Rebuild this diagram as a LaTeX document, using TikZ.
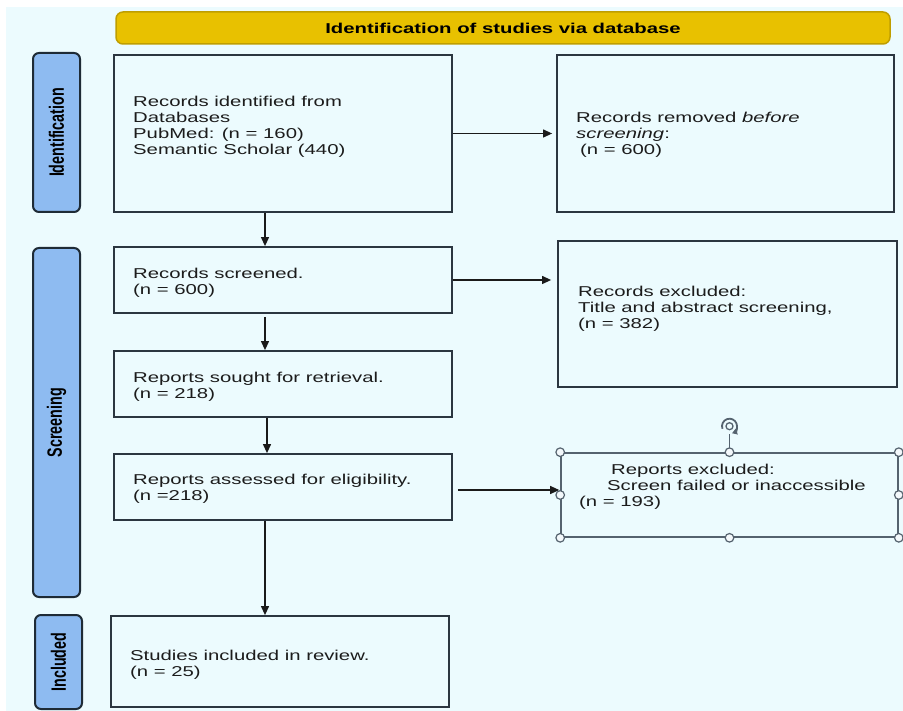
\documentclass[tikz,border=0pt]{standalone}
\usepackage{fontspec}
\usepackage{graphicx}
\setmainfont{Liberation Sans}[FakeStretch=1.42]
\newfontfamily\sidefont{Liberation Sans}
\usetikzlibrary{arrows.meta}
\definecolor{bgc}{HTML}{ECFBFE}
\definecolor{boxline}{HTML}{2B3640}
\definecolor{sidefill}{HTML}{8EBBF1}
\definecolor{sideline}{HTML}{1E2B36}
\definecolor{bannerfill}{HTML}{E8C100}
\definecolor{bannerline}{HTML}{BF9E00}
\definecolor{hcol}{HTML}{55636F}
\definecolor{hfill}{HTML}{F3F8FB}
\definecolor{arrcol}{HTML}{1A1A1A}
\definecolor{txtcol}{HTML}{1C1C1C}
\tikzset{
  box/.style={draw=boxline, line width=1.8pt, inner sep=0pt},
  txt/.style={anchor=north west, inner sep=0pt, align=left, text=txtcol, font=\fontsize{14.3}{16}\selectfont},
  side/.style={draw=sideline, fill=sidefill, line width=2pt, rounded corners=6pt, rotate=90, inner sep=0pt,
    font=\sidefont\bfseries\fontsize{14.3}{16}\selectfont},
  arr/.style={draw=arrcol, line width=1.2pt, -{Triangle[length=9pt,width=8pt]}},
  handle/.style={draw=hcol, fill=hfill, line width=1.2pt},
}
\begin{document}
\begin{tikzpicture}[x=1pt,y=-1pt]
\useasboundingbox (0,0) rectangle (903,711);
\fill[bgc] (6,7) rectangle (903,711);

% banner
\node[draw=bannerline, fill=bannerfill, line width=1.5pt, rounded corners=7pt, minimum width=774pt, minimum height=32pt, inner sep=0pt, font=\bfseries\fontsize{14.3}{16}\selectfont] (banner) at (503,28) {Identification of studies via database};

% side labels (rotated: width is along the text)
\node[side, minimum width=159pt, minimum height=47pt] (sideid) at (56.5,132.5) {\scalebox{1}[1.45]{Identification}};
\node[side, minimum width=349pt, minimum height=47pt] (sidescr) at (56.5,422.5) {\scalebox{1}[1.45]{Screening}};
\node[side, minimum width=94pt, minimum height=47pt] (sideinc) at (58.5,662) {\scalebox{1}[1.45]{Included}};

% boxes
\node[box, minimum width=338pt, minimum height=157pt] (b1) at (283,133.5) {};
\node[box, minimum width=337pt, minimum height=157pt] (removed) at (725.5,133.5) {};
\node[box, minimum width=338pt, minimum height=66pt] (screened) at (283,280) {};
\node[box, minimum width=339pt, minimum height=146pt] (excluded) at (727.5,314) {};
\node[box, minimum width=338pt, minimum height=66pt] (sought) at (283,384) {};
\node[box, minimum width=338pt, minimum height=66pt] (assessed) at (283,487) {};
\node[box, draw=hcol, line width=1.6pt, minimum width=337pt, minimum height=84pt] (rexcl) at (729.5,495) {};
\node[box, minimum width=338pt, minimum height=91pt] (included) at (280,661.5) {};

% texts
\node[txt] (t1) at (133,96) {Records identified from\\Databases\\PubMed: (n = 160)\\Semantic Scholar (440)};
\node[txt] (t2) at (576,112) {Records removed \textit{before}\\\textit{screening}:\\\hspace*{4pt}(n = 600)};
\node[txt] (t3) at (133,268) {Records screened.\\(n = 600)};
\node[txt] (t4) at (578,286) {Records excluded:\\Title and abstract screening,\\(n = 382)};
\node[txt] (t5) at (133,372) {Reports sought for retrieval.\\(n = 218)};
\node[txt] (t6) at (133,474) {Reports assessed for eligibility.\\(n =218)};
\node[txt] (t7) at (579,464) {\hspace*{32pt}Reports excluded:\\\hspace*{28pt}Screen failed or inaccessible\\(n = 193)};
\node[txt] (t8) at (130,650) {Studies included in review.\\(n = 25)};

% connectors
\draw[arr, shorten >=4pt] (b1.east) -- (removed.west);
\draw[arr] ([xshift=-18pt]b1.south) -- ([xshift=-18pt]b1.south |- screened.north);
\draw[arr] ([xshift=-18pt,yshift=-3pt]screened.south) -- ([xshift=-18pt]screened.south |- sought.north);
\draw[arr] ([xshift=-16pt]sought.south) -- ([xshift=-16pt]sought.south |- assessed.north);
\draw[arr] ([xshift=-18pt]assessed.south) -- ([xshift=-18pt]assessed.south |- included.north);
\draw[arr, shorten >=6pt] (screened.east) -- (screened.east -| excluded.west);
\draw[arr, shorten <=5pt, shorten >=1pt] ([yshift=-3pt]assessed.east) -- ([yshift=-3pt]assessed.east -| rexcl.west);

% selection handles of the last box
\coordinate (rottop) at ([yshift=18pt]rexcl.north);
\coordinate (rotc) at ([yshift=26pt]rexcl.north);
\draw[draw=hcol, line width=1.2pt] (rexcl.north) -- (rottop);
\draw[draw=hcol, line width=1.8pt, -{Triangle[length=5pt,width=6pt]}] ([shift={(160:7.5)}]rotc) arc[start angle=160, end angle=430, radius=7.5];
\draw[draw=hcol, line width=1.3pt] (rotc) circle[radius=3.5pt];
\foreach \a in {north west, north, north east, east, south east, south, south west, west}
  \draw[handle] (rexcl.\a) circle[radius=4.3pt];
\end{tikzpicture}
\end{document}
